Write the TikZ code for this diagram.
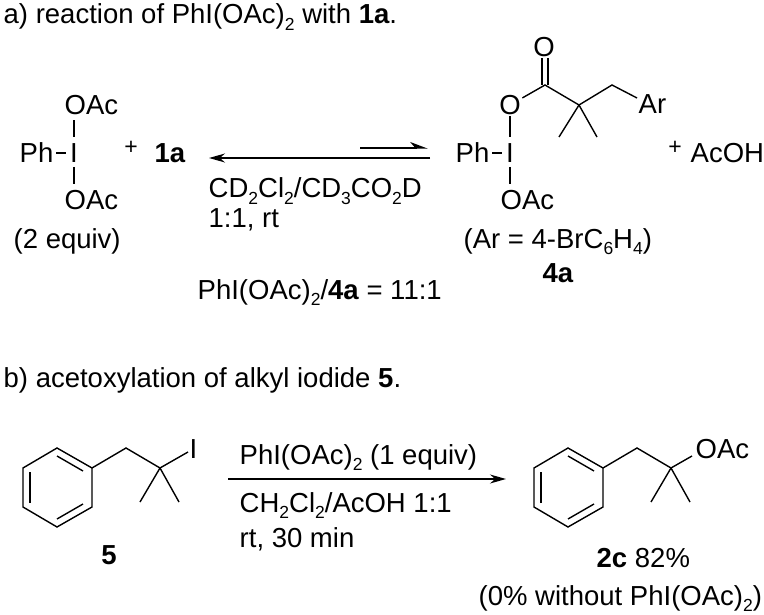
\documentclass[tikz,border=0pt]{standalone}
\usepackage{fontspec}
\setmainfont{Liberation Sans}
\usetikzlibrary{arrows.meta,calc}
\newcommand\subTxt[1]{\raisebox{-.22em}{\fontsize{17.5}{17.5}\selectfont #1}}
\newcommand\rowLeft{153}
\newcommand\prodShift{511}

\begin{document}
\begin{tikzpicture}[x=1pt,y=-1pt,line width=1.4pt,
    every node/.style={inner sep=0pt,font=\fontsize{27.5}{27.5}\selectfont},
    txt/.style={anchor=base west},
    plus/.style={font=\fontsize{23}{23}\selectfont},
    rxn/.style={-{Stealth[length=16pt,width=9pt]}}]

    \useasboundingbox (0,0) rectangle (764,615);

    % part a
    \node[txt] (titleA) at (3,24) {a) reaction of PhI(OAc)\subTxt{2} with \textbf{1a}.};

    \node[txt] (phA) at (19,163) {Ph};
    \node[anchor=base] (iA) at (74,163) {I};
    \node[txt] (oacAtop) at (64,115) {OAc};
    \node[txt] (oacAbot) at (64,210) {OAc};
    \node[txt] (equivA) at (13,248) {(2 equiv)};
    \node[plus] (plusA) at (131,148) {+};
    \node[txt] (oneA) at (154,163) {\textbf{1a}};

    \draw ([xshift=2pt]phA.east |- 0,\rowLeft) -- ([xshift=-3pt]iA.west |- 0,\rowLeft);
    \draw (iA.north |- 0,137) -- (iA.north |- 0,120);
    \draw (iA.south |- 0,167) -- (iA.south |- 0,184);

    \coordinate (eqRight) at (430,158);
    \coordinate (eqLeft) at (209,158);
    \coordinate (hpLeft) at (360,148);
    \coordinate (hpRight) at (428,148);
    \draw[rxn] (eqRight) -- (eqLeft);
    \draw[-{Stealth[harpoon,length=16pt,width=12pt]}] (hpLeft) -- (hpRight);

    \node[txt] (solvA) at (208,198) {CD\subTxt{2}Cl\subTxt{2}/CD\subTxt{3}CO\subTxt{2}D};
    \node[txt] (condA) at (208,228) {1:1, rt};
    \node[txt] (ratioA) at (197,299) {PhI(OAc)\subTxt{2}/\textbf{4a} = 11:1};

    \node[txt] (phB) at (455,163) {Ph};
    \node[anchor=base] (iB) at (510,163) {I};
    \node[inner sep=1pt] (oEster) at (510,105) {O};
    \node[txt] (oacB) at (500,210) {OAc};
    \node[inner sep=1pt] (oKeto) at (544,47) {O};
    \coordinate (cKeto) at (545,85);
    \coordinate (cQuat) at (579,105);
    \coordinate (chTwo) at (612,85);
    \coordinate (meOne) at (559,137);
    \coordinate (meTwo) at (597,137);
    \node[txt] (arB) at (638,114) {Ar};
    \node[txt] (arNote) at (463,248) {(Ar = 4-BrC\subTxt{6}H\subTxt{4})};
    \node[anchor=base] (fourA) at (558,283) {\textbf{4a}};
    \node[plus] (plusB) at (675,148) {+};
    \node[txt] (acoh) at (690,163) {AcOH};

    \draw ([xshift=2pt]phB.east |- 0,\rowLeft) -- ([xshift=-3pt]iB.west |- 0,\rowLeft);
    \draw (iB.south |- 0,167) -- (iB.south |- 0,184);
    \draw (oEster) -- (iB.north |- 0,137);
    \draw (oEster) -- (cKeto) -- (cQuat) -- (chTwo) -- ([xshift=-1pt,yshift=16pt]arB.base west);
    \draw (cQuat) -- (meOne);
    \draw (cQuat) -- (meTwo);
    \draw ([xshift=-3pt]cKeto) -- ([xshift=-3pt]cKeto |- oKeto.south);
    \draw ([xshift=3pt]cKeto) -- ([xshift=3pt]cKeto |- oKeto.south);

    % part b
    \node[txt] (titleB) at (3,387) {b) acetoxylation of alkyl iodide \textbf{5}.};

    \foreach \ringName/\ringShift in {five/0,prod/\prodShift} {
      \coordinate (\ringName1) at (57+\ringShift,448);
      \coordinate (\ringName2) at (92+\ringShift,468);
      \coordinate (\ringName3) at (92+\ringShift,507);
      \coordinate (\ringName4) at (57+\ringShift,527);
      \coordinate (\ringName5) at (23+\ringShift,507);
      \coordinate (\ringName6) at (23+\ringShift,468);
      \coordinate (\ringName Ch) at (126+\ringShift,448);
      \coordinate (\ringName Q) at (160+\ringShift,468);
      \coordinate (\ringName Me) at (140+\ringShift,502);
      \coordinate (\ringName Mf) at (179+\ringShift,502);
      \draw[line join=miter] (\ringName1) -- (\ringName2) -- (\ringName3) -- (\ringName4) -- (\ringName5) -- (\ringName6) -- cycle;
      \draw ($(\ringName1)+(0,8)$) -- ($(\ringName2)+(-9,3)$);
      \draw ($(\ringName4)+(0,-8)$) -- ($(\ringName3)+(-9,-3)$);
      \draw ($(\ringName5)+(7,-4)$) -- ($(\ringName6)+(7,4)$);
      \draw (\ringName2) -- (\ringName Ch) -- (\ringName Q);
      \draw (\ringName Q) -- (\ringName Me);
      \draw (\ringName Q) -- (\ringName Mf);
    }

    \node[txt] (iFive) at (189,458) {I};
    \node[anchor=base] (fiveNum) at (109,564) {\textbf{5}};
    \draw (fiveQ) -- ([xshift=-1pt,yshift=6pt]iFive.base west);

    \coordinate (arrowB) at (228,479);
    \coordinate (arrowE) at (506,479);
    \draw[rxn] (arrowB) -- (arrowE);
    \node[txt] (reagB) at (239,464) {PhI(OAc)\subTxt{2} (1 equiv)};
    \node[txt] (solvB) at (239,512) {CH\subTxt{2}Cl\subTxt{2}/AcOH 1:1};
    \node[txt] (timeB) at (239,547) {rt, 30 min};

    \node[txt] (oacProd) at (695,458) {OAc};
    \draw (prodQ) -- ([xshift=-3pt,yshift=2pt]oacProd.base west);
    \node[txt] (yieldB) at (596,567) {\textbf{2c} 82\%};
    \node[txt] (noteB) at (478,605) {(0\% without PhI(OAc)\subTxt{2})};

  \end{tikzpicture}
\end{document}
